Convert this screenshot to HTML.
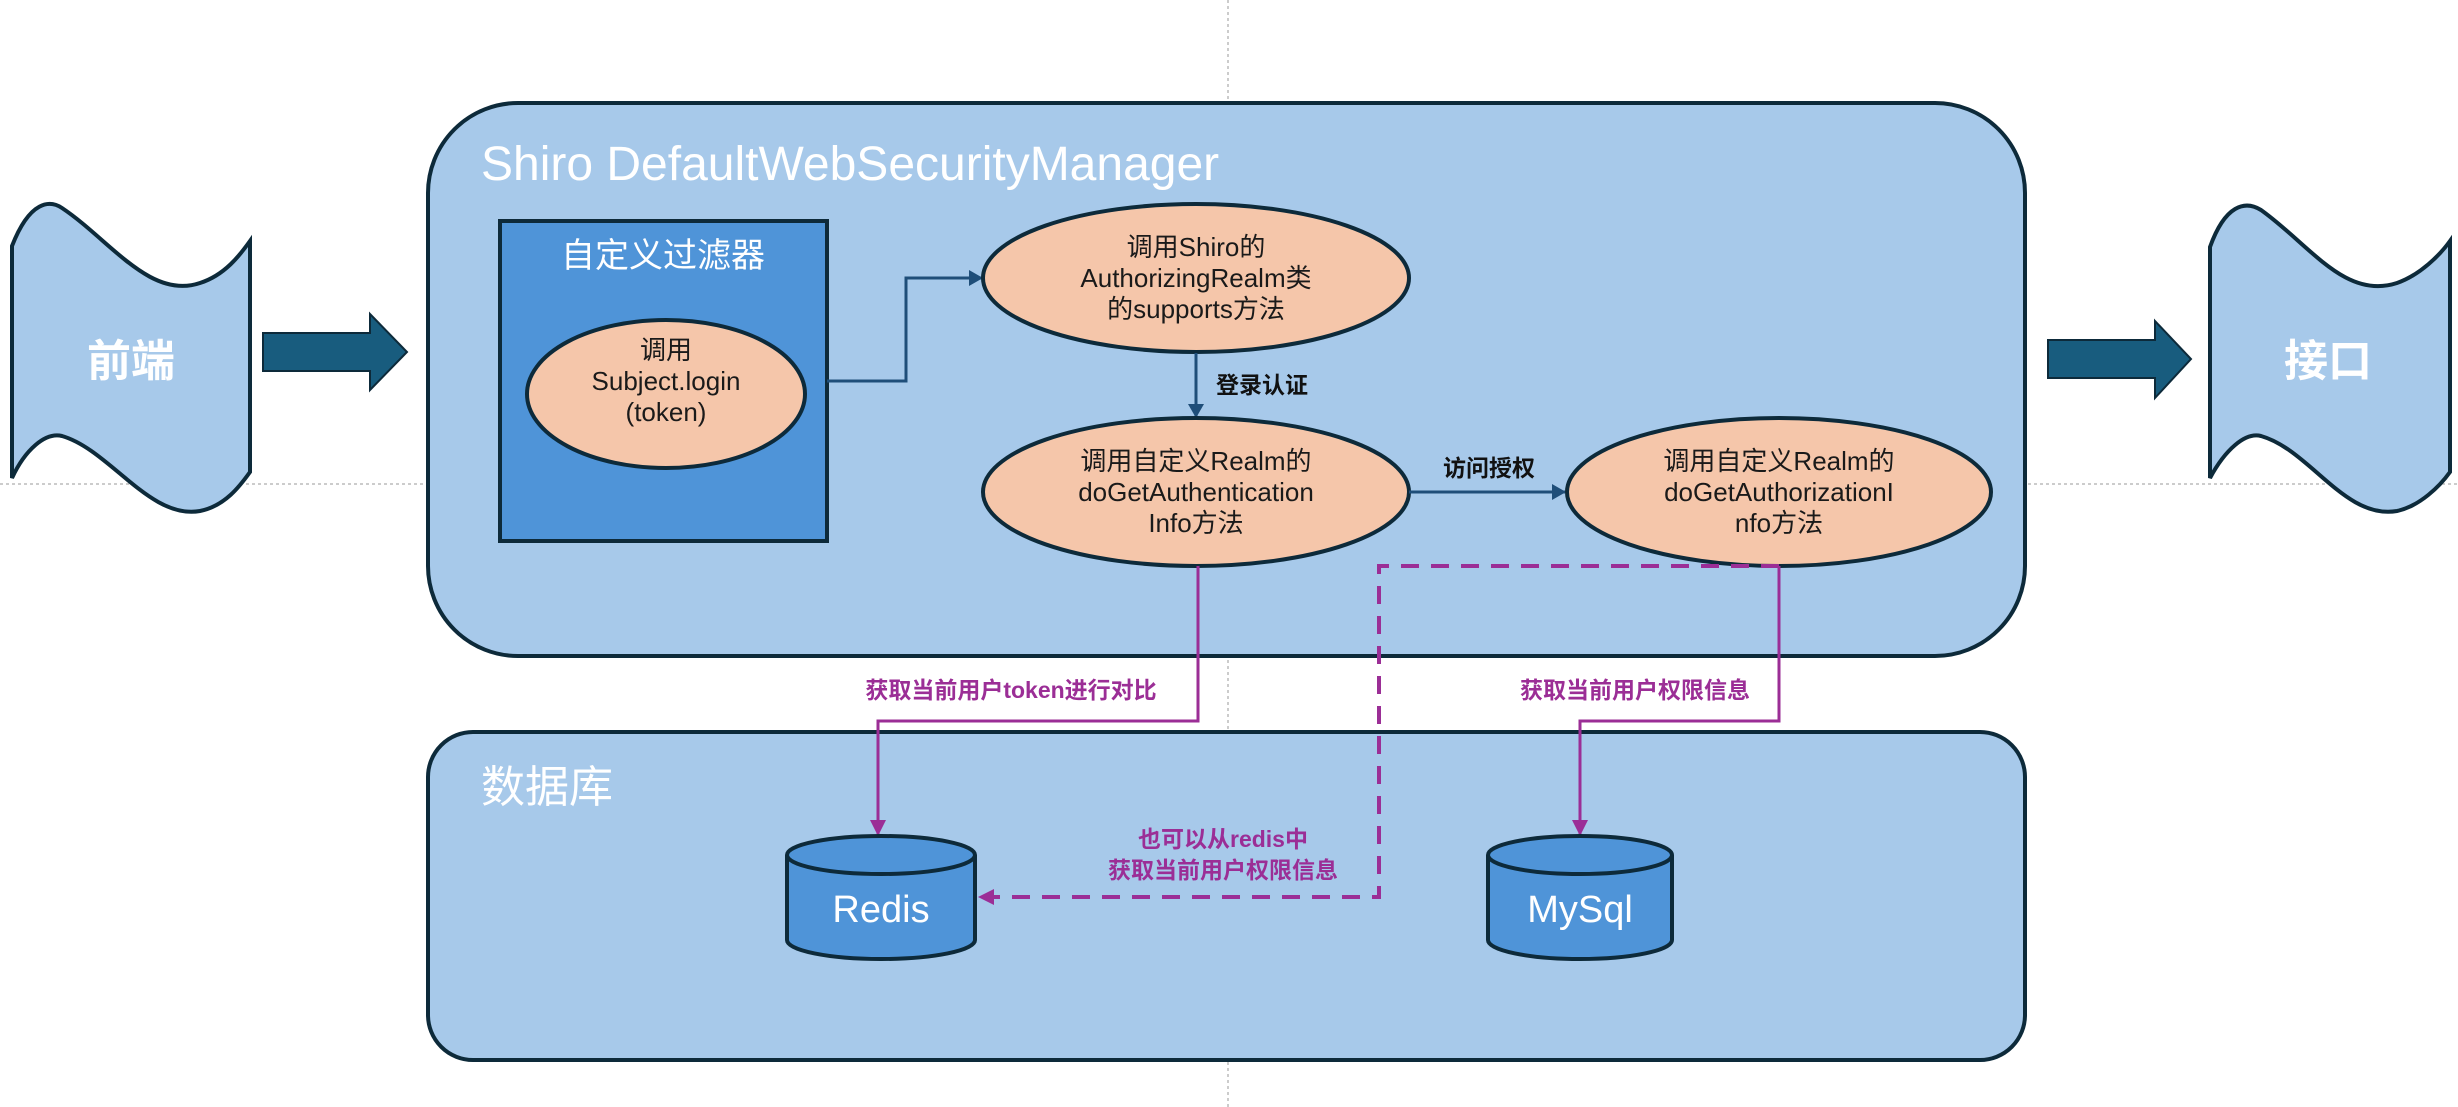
<!DOCTYPE html>
<html><head><meta charset="utf-8"><style>
html,body{margin:0;padding:0;background:#fff;}
svg{display:block;}
text{font-family:"Liberation Sans","Noto Sans CJK SC",sans-serif;}
</style></head><body>
<svg width="2458" height="1107" viewBox="0 0 2458 1107" xmlns="http://www.w3.org/2000/svg">
<defs>
<marker id="ab" markerWidth="14" markerHeight="16" refX="13" refY="8" orient="auto" markerUnits="userSpaceOnUse"><path d="M0,0 L14,8 L0,16 Z" fill="#1f4e79"/></marker>
<marker id="ap" markerWidth="16" markerHeight="16" refX="14" refY="8" orient="auto" markerUnits="userSpaceOnUse"><path d="M0,0 L16,8 L0,16 Z" fill="#9b2e96"/></marker>
</defs>
<line x1="0" y1="484" x2="2458" y2="484" stroke="#999" stroke-width="1" stroke-dasharray="3,3"/>
<line x1="1228" y1="0" x2="1228" y2="1107" stroke="#999" stroke-width="1" stroke-dasharray="3,3"/>

<rect x="428" y="103" width="1597" height="553" rx="90" ry="90" fill="#a7c9ea" stroke="#0d2a3a" stroke-width="4"/>
<rect x="428" y="732" width="1597" height="328" rx="45" ry="45" fill="#a7c9ea" stroke="#0d2a3a" stroke-width="4"/>
<text x="481" y="180" font-size="48" fill="#fff">Shiro DefaultWebSecurityManager</text>
<text x="481" y="802" font-size="44" fill="#fff">数据库</text>

<path d="M12,246 C30,200 50,200 62,208 C110,240 150,300 200,283 C225,275 240,255 250,241 L250,472 C240,486 225,506 200,511 C150,520 110,450 62,436 C45,432 25,450 12,478 Z" fill="#a7c9ea" stroke="#0d2a3a" stroke-width="4"/>
<text x="131" y="376" font-size="44" font-weight="bold" fill="#fff" text-anchor="middle">前端</text>
<path d="M263,333 L370,333 L370,314 L407,352 L370,390 L370,371 L263,371 Z" fill="#185c7e" stroke="#0d2a3a" stroke-width="2"/>

<path d="M2210,247 C2225,205 2245,200 2261,210 C2310,245 2345,300 2397,283 C2420,275 2440,255 2450,241 L2450,472 C2440,486 2420,506 2397,511 C2345,520 2310,450 2261,436 C2245,432 2225,450 2210,478 Z" fill="#a7c9ea" stroke="#0d2a3a" stroke-width="4"/>
<text x="2328" y="376" font-size="44" font-weight="bold" fill="#fff" text-anchor="middle">接口</text>
<path d="M2048,340 L2155,340 L2155,321 L2191,359 L2155,398 L2155,378 L2048,378 Z" fill="#185c7e" stroke="#0d2a3a" stroke-width="2"/>

<rect x="500" y="221" width="327" height="320" fill="#4f94d8" stroke="#0d2a3a" stroke-width="4"/>
<text x="663" y="267" font-size="34" fill="#fff" text-anchor="middle">自定义过滤器</text>
<ellipse cx="666" cy="394" rx="139" ry="74" fill="#f5c6aa" stroke="#0d2a3a" stroke-width="4"/>
<g font-size="26" fill="#1a1a1a" text-anchor="middle">
<text x="666" y="359">调用</text>
<text x="666" y="390">Subject.login</text>
<text x="666" y="421">(token)</text>
</g>

<polyline points="827,381 906,381 906,278 982,278" fill="none" stroke="#1f4e79" stroke-width="3" marker-end="url(#ab)"/>

<ellipse cx="1196" cy="278" rx="213" ry="74" fill="#f5c6aa" stroke="#0d2a3a" stroke-width="4"/>
<g font-size="26" fill="#1a1a1a" text-anchor="middle">
<text x="1196" y="256">调用Shiro的</text>
<text x="1196" y="287">AuthorizingRealm类</text>
<text x="1196" y="318">的supports方法</text>
</g>
<line x1="1196" y1="353" x2="1196" y2="417" stroke="#1f4e79" stroke-width="3" marker-end="url(#ab)"/>
<text x="1216" y="393" font-size="23" font-weight="bold" fill="#111">登录认证</text>

<ellipse cx="1196" cy="492" rx="213" ry="74" fill="#f5c6aa" stroke="#0d2a3a" stroke-width="4"/>
<g font-size="26" fill="#1a1a1a" text-anchor="middle">
<text x="1196" y="470">调用自定义Realm的</text>
<text x="1196" y="501">doGetAuthentication</text>
<text x="1196" y="532">Info方法</text>
</g>
<line x1="1409" y1="492" x2="1565" y2="492" stroke="#1f4e79" stroke-width="3" marker-end="url(#ab)"/>
<text x="1489" y="476" font-size="23" font-weight="bold" fill="#111" text-anchor="middle">访问授权</text>

<ellipse cx="1779" cy="492" rx="212" ry="74" fill="#f5c6aa" stroke="#0d2a3a" stroke-width="4"/>
<g font-size="26" fill="#1a1a1a" text-anchor="middle">
<text x="1779" y="470">调用自定义Realm的</text>
<text x="1779" y="501">doGetAuthorizationI</text>
<text x="1779" y="532">nfo方法</text>
</g>

<polyline points="1198,566 1198,721 878,721 878,834" fill="none" stroke="#9b2e96" stroke-width="3" marker-end="url(#ap)"/>
<polyline points="1779,566 1779,721 1580,721 1580,834" fill="none" stroke="#9b2e96" stroke-width="3" marker-end="url(#ap)"/>
<polyline points="1779,566 1379,566 1379,897 980,897" fill="none" stroke="#9b2e96" stroke-width="4" stroke-dasharray="18,12" marker-end="url(#ap)"/>
<g font-size="23" font-weight="bold" fill="#9b2e96" text-anchor="middle">
<text x="1011" y="698">获取当前用户token进行对比</text>
<text x="1635" y="698">获取当前用户权限信息</text>
<text x="1223" y="847">也可以从redis中</text>
<text x="1223" y="878">获取当前用户权限信息</text>
</g>

<g stroke="#0d2a3a" stroke-width="4" fill="#4f94d8">
<path d="M787,855 L787,940 A94,19 0 0 0 975,940 L975,855"/>
<ellipse cx="881" cy="855" rx="94" ry="19"/>
<path d="M1488,855 L1488,940 A92,19 0 0 0 1672,940 L1672,855"/>
<ellipse cx="1580" cy="855" rx="92" ry="19"/>
</g>
<text x="881" y="922" font-size="38" fill="#fff" text-anchor="middle">Redis</text>
<text x="1580" y="922" font-size="38" fill="#fff" text-anchor="middle">MySql</text>
</svg>
</body></html>
